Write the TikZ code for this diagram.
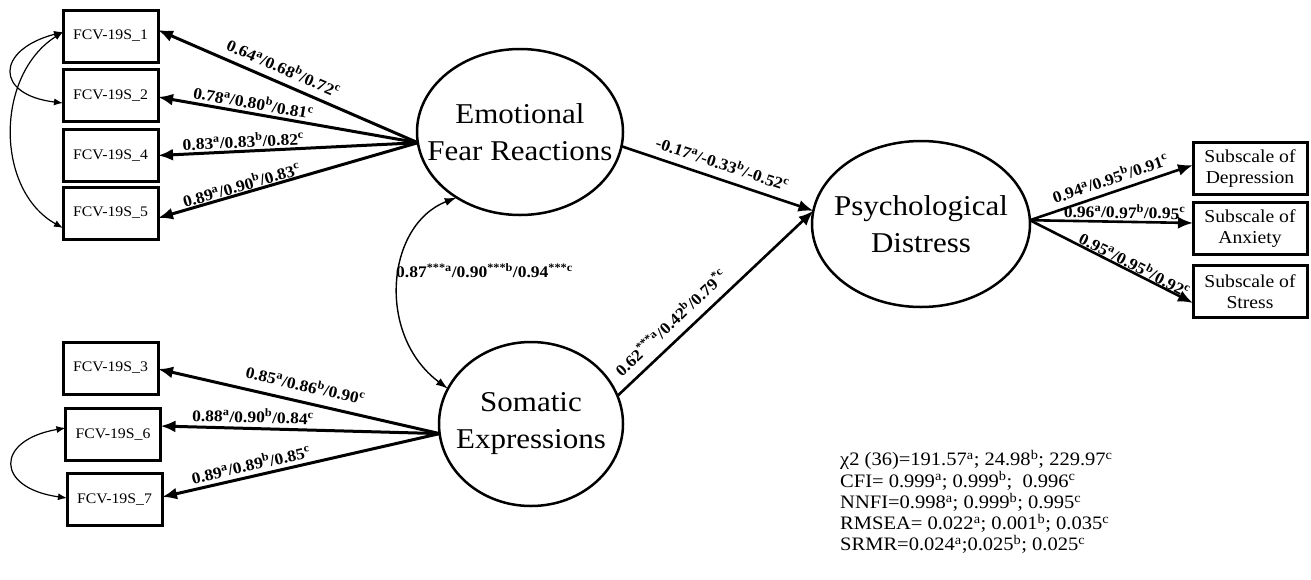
\documentclass[tikz,border=0pt]{standalone}
\usepackage{fontspec}
\setmainfont{Liberation Serif}[FakeStretch=1.08]
\usetikzlibrary{shapes.geometric,arrows.meta}
\newcommand{\spr}[1]{\textsuperscript{#1}}
\begin{document}
\begin{tikzpicture}[x=1pt,y=-1pt,
  obs/.style={draw, line width=3pt, rectangle, minimum width=95pt, minimum height=52pt,
    inner sep=0pt, outer sep=0pt, font=\fontsize{14.6}{17}\selectfont},
  rbox/.style={obs, minimum width=114pt, align=center, font=\fontsize{18.2}{21.5}\selectfont},
  lat/.style={draw, ellipse, line width=2.5pt, inner sep=0pt, outer sep=0pt},
  lattext/.style={font=\fontsize{28.7}{37}\selectfont, align=center, inner sep=0pt},
  load/.style={line width=3pt, -{Latex[length=15pt,width=12pt]}},
  path/.style={line width=2.6pt, -{Latex[length=15pt,width=12pt]}},
  cov/.style={line width=1.2pt, {Latex[length=9pt,width=7pt]}-{Latex[length=9pt,width=7pt]}},
  lcov/.style={line width=1.4pt, {Latex[length=12pt,width=8pt]}-{Latex[length=12pt,width=8pt]}},
  lab/.style={font=\fontsize{16.2}{19}\selectfont\bfseries, inner sep=0pt, sloped},
]
\useasboundingbox (0,0) rectangle (1311,579);

% observed indicators
\node[obs] (b1) at (110.5,36) {FCV-19S\_1};
\node[obs] (b2) at (110.5,95.5) {FCV-19S\_2};
\node[obs] (b4) at (110.5,155.5) {FCV-19S\_4};
\node[obs] (b5) at (110.5,213) {FCV-19S\_5};
\node[obs] (b3) at (110.5,368) {FCV-19S\_3};
\node[obs] (b6) at (113,434.5) {FCV-19S\_6};
\node[obs] (b7) at (114.5,499.5) {FCV-19S\_7};

\node[rbox] (dep) at (1250,168.5) {Subscale of\\Depression};
\node[rbox] (anx) at (1250,228.5) {Subscale of\\Anxiety};
\node[rbox] (str) at (1250,291.5) {Subscale of\\Stress};

% latent variables
\node[lat, minimum width=206pt, minimum height=166pt,
  label={[lattext]center:Emotional\\Fear Reactions}] (efr) at (520,132) {};
\node[lat, minimum width=184pt, minimum height=164pt,
  label={[lattext]center:Somatic\\Expressions}] (som) at (531,424) {};
\node[lat, minimum width=218pt, minimum height=166pt,
  label={[lattext]center:Psychological\\Distress}] (pd) at (921,224) {};

% loadings of Emotional Fear Reactions
\draw[load] (efr.186) -- node[lab, pos=0.54, above=7pt] {0.64\spr{a}/0.68\spr{b}/0.72\spr{c}} ([yshift=6pt]b1.east);
\draw[load] (efr.186) -- node[lab, pos=0.64, above=3pt] {0.78\spr{a}/0.80\spr{b}/0.81\spr{c}} ([yshift=-1.5pt]b2.east);
\draw[load] (efr.186) -- node[lab, pos=0.67, above=2pt] {0.83\spr{a}/0.83\spr{b}/0.82\spr{c}} (b4.east);
\draw[load] (efr.186) -- node[lab, pos=0.67, above=0.5pt] {0.89\spr{a}/0.90\spr{b}/0.83\spr{c}} ([yshift=-5pt]b5.east);

% loadings of Somatic Expressions
\draw[load] (som.186) -- node[lab, pos=0.49, above=9pt] {0.85\spr{a}/0.86\spr{b}/0.90\spr{c}} ([yshift=-1pt]b3.east);
\draw[load] (som.186) -- node[lab, pos=0.67, above=4pt] {0.88\spr{a}/0.90\spr{b}/0.84\spr{c}} ([yshift=8.5pt]b6.east);
\draw[load] (som.186) -- node[lab, pos=0.67, above=4pt] {0.89\spr{a}/0.89\spr{b}/0.85\spr{c}} ([yshift=2.5pt]b7.east);

% structural paths
\draw[path] (efr.352) -- node[lab, pos=0.5, above=8pt] {-0.17\spr{a}/-0.33\spr{b}/-0.52\spr{c}} (pd.173);
\draw[path] (som.18) -- node[lab, pos=0.33, above=9pt] {0.62\spr{***a}/0.42\spr{b}/0.79\spr{*c}} (pd.173);

% loadings of Psychological Distress
\draw[path] (pd.2) -- node[lab, pos=0.52, above=6pt] {0.94\spr{a}/0.95\spr{b}/0.91\spr{c}} ([yshift=3.5pt]dep.west);
\draw[path] (pd.2) -- node[lab, pos=0.58, above=2pt] {0.96\spr{a}/0.97\spr{b}/0.95\spr{c}} ([yshift=5.5pt]anx.west);
\draw[path] (pd.2) -- node[lab, pos=0.62, above=0pt] {0.95\spr{a}/0.95\spr{b}/0.92\spr{c}} ([yshift=-11.5pt]str.west);

% correlation between latent factors
\draw[lcov] (efr.226) .. controls (386,225) and (376,335) .. (som.157);
\node[font=\fontsize{16.2}{19}\selectfont\bfseries, anchor=west, inner sep=0pt] (corr) at (396,271)
  {0.87\spr{***a}/0.90\spr{***b}/0.94\spr{***c}};

% correlated errors
\draw[cov] ([yshift=4pt]b1.west) .. controls (-5,50) and (-5,95) .. ([yshift=-7.5pt]b2.west);
\draw[cov] ([yshift=4pt]b1.west) .. controls (-5,75) and (-5,190) .. ([yshift=-15pt]b5.west);
\draw[cov] ([yshift=6.5pt]b6.west) .. controls (-5,440) and (-5,488) .. ([yshift=1.5pt]b7.west);

% fit indices
\node[anchor=north west, inner sep=0pt, align=left, font=\fontsize{19}{21.3}\selectfont] (fit) at (840,450)
  {χ2 (36)=191.57\spr{a}; 24.98\spr{b}; 229.97\spr{c}\\
   CFI= 0.999\spr{a}; 0.999\spr{b};\ \ 0.996\spr{c}\\
   NNFI=0.998\spr{a}; 0.999\spr{b}; 0.995\spr{c}\\
   RMSEA= 0.022\spr{a}; 0.001\spr{b}; 0.035\spr{c}\\
   SRMR=0.024\spr{a};0.025\spr{b}; 0.025\spr{c}};
\end{tikzpicture}
\end{document}
